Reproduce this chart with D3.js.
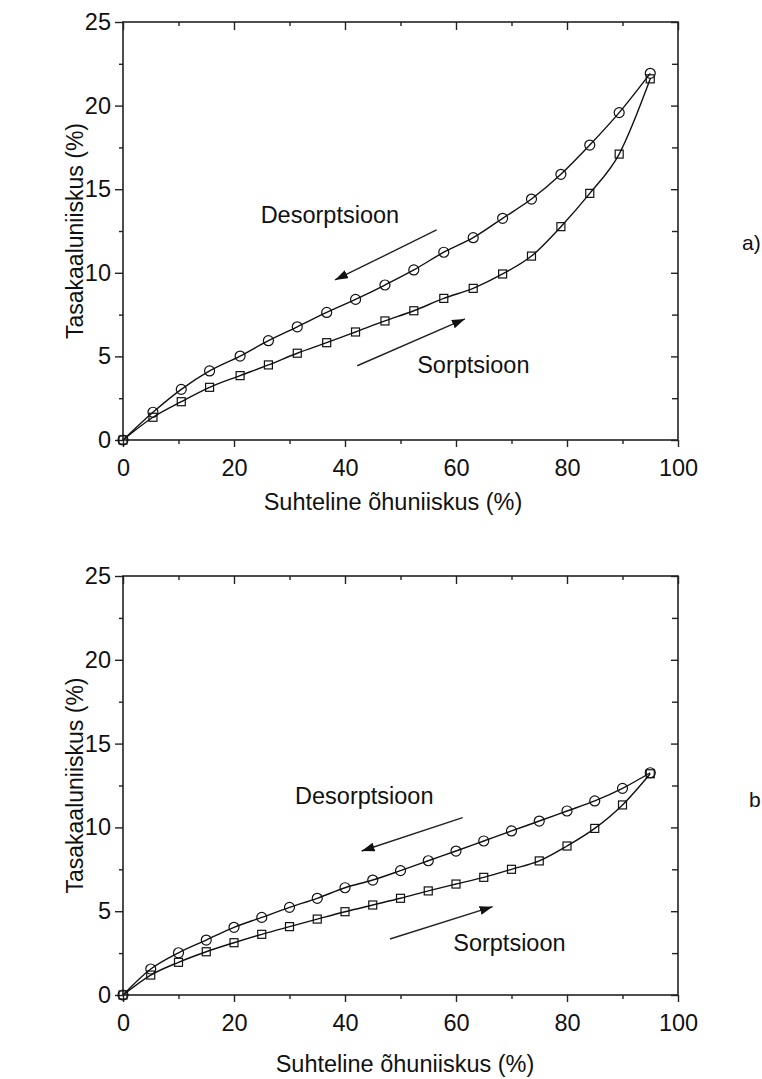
<!DOCTYPE html>
<html>
<head>
<meta charset="utf-8">
<script src="https://cdn.jsdelivr.net/npm/d3@7"></script>
<style>
  body { margin: 0; background: #fff; }
  svg text { font-family: "Liberation Sans", Arial, Helvetica, sans-serif; fill: #111; }
</style>
</head>
<body>
<div id="chart"></div>
<script>
// ---- data ----
// panel a
const rhA = [0, 5.4, 10.5, 15.6, 21.1, 26.2, 31.4, 36.7, 41.9, 47.2, 52.4, 57.8, 63.1, 68.4, 73.6, 78.9, 84.1, 89.4, 95];
const desorptionA = [0, 1.66, 3.03, 4.13, 5.02, 5.94, 6.77, 7.63, 8.41, 9.27, 10.17, 11.23, 12.1, 13.26, 14.41, 15.89, 17.64, 19.58, 21.93];
const sorptionA = [0, 1.36, 2.29, 3.15, 3.85, 4.49, 5.19, 5.82, 6.46, 7.12, 7.73, 8.47, 9.07, 9.93, 11.0, 12.76, 14.75, 17.1, 21.6];

// panel b
const rhB = [0, 5, 10, 15, 20, 25, 30, 35, 40, 45, 50, 55, 60, 65, 70, 75, 80, 85, 90, 95];
const desorptionB = [0, 1.55, 2.52, 3.28, 4.04, 4.63, 5.23, 5.77, 6.40, 6.86, 7.42, 8.01, 8.59, 9.19, 9.79, 10.38, 10.98, 11.58, 12.33, 13.26];
const sorptionB = [0, 1.19, 1.95, 2.58, 3.12, 3.62, 4.08, 4.53, 4.97, 5.37, 5.77, 6.21, 6.62, 7.02, 7.50, 8.0, 8.89, 9.94, 11.34, 13.2];

const xTicks = [0, 20, 40, 60, 80, 100];
const yTicks = [0, 5, 10, 15, 20, 25];
const xTitle = 'Suhteline õhuniiskus (%)';
const yTitle = 'Tasakaaluniiskus (%)';

// annotation anchors in data units: arrows [x1, y1, x2(tip), y2(tip)], labels [x, y]
const arrowsA = [[56.5, 12.56, 38.2, 9.57], [42.2, 4.44, 61.6, 7.24]];
const labelsA = [['Desorptsioon', 24.8, 12.98], ['Sorptsioon', 53.0, 3.99]];
const arrowsB = [[61.2, 10.58, 43.0, 8.59], [48.1, 3.34, 66.6, 5.27]];
const labelsB = [['Desorptsioon', 31.0, 11.38], ['Sorptsioon', 59.5, 2.64]];

const svg = d3.select('#chart').append('svg')
    .attr('width', 762)
    .attr('height', 1079);

// arrow head
svg.append('defs').append('marker')
    .attr('id', 'head')
    .attr('viewBox', '0 0 13 9')
    .attr('refX', 13).attr('refY', 4.5)
    .attr('markerWidth', 13).attr('markerHeight', 9)
    .attr('markerUnits', 'userSpaceOnUse')
    .attr('orient', 'auto')
  .append('path')
    .attr('d', 'M0,0L13,4.5L0,9Z')
    .attr('fill', '#111');

function drawPanel(cfg) {
    const w = 555, h = cfg.height;
    const g = svg.append('g').attr('transform', `translate(${cfg.left},${cfg.top})`);

    const x = d3.scaleLinear().domain([0, 100]).range([0, w]);
    const y = d3.scaleLinear().domain([0, 25]).range([h, 0]);

    const fontSize = '23.5px';

    // minor ticks first
    g.append('g').attr('transform', `translate(0,${h})`)
        .call(d3.axisBottom(x).tickValues(d3.range(10, 100, 20)).tickSize(4).tickFormat(''));
    g.append('g')
        .call(d3.axisLeft(y).tickValues(d3.range(2.5, 25, 5)).tickSize(4).tickFormat(''));
    g.append('g')
        .call(d3.axisTop(x).tickValues(d3.range(10, 100, 20)).tickSize(-4).tickFormat(''));
    g.append('g').attr('transform', `translate(${w},0)`)
        .call(d3.axisRight(y).tickValues(d3.range(2.5, 25, 5)).tickSize(-6).tickFormat(''));

    // major ticks with labels
    const xAxisG = g.append('g').attr('transform', `translate(0,${h})`)
        .call(d3.axisBottom(x).tickValues(xTicks).tickSize(7).tickPadding(12));
    const yAxisG = g.append('g')
        .call(d3.axisLeft(y).tickValues(yTicks).tickSize(8).tickPadding(4));
    g.append('g')
        .call(d3.axisTop(x).tickValues(xTicks).tickSize(-8).tickFormat(''));
    g.append('g').attr('transform', `translate(${w},0)`)
        .call(d3.axisRight(y).tickValues(yTicks).tickSize(-7).tickFormat(''));

    g.selectAll('.domain').remove();
    g.selectAll('.tick line').attr('stroke', '#222').attr('stroke-width', 1.4);
    xAxisG.selectAll('text').style('font-size', fontSize).attr('fill', '#111');
    yAxisG.selectAll('text').style('font-size', fontSize).attr('fill', '#111');

    // frame
    g.append('rect')
        .attr('width', w).attr('height', h)
        .attr('fill', 'none')
        .attr('stroke', '#222')
        .attr('stroke-width', 1.6);

    const line = d3.line()
        .x(d => x(d[0]))
        .y(d => y(d[1]))
        .curve(d3.curveMonotoneX);

    const sorp = cfg.rh.map((v, i) => [v, cfg.sorption[i]]);
    const desorp = cfg.rh.map((v, i) => [v, cfg.desorption[i]]);

    [sorp, desorp].forEach(s => {
        g.append('path')
            .datum(s)
            .attr('d', line)
            .attr('fill', 'none')
            .attr('stroke', '#111')
            .attr('stroke-width', 1.4);
    });

    // square markers (sorption)
    g.selectAll('.sq').data(sorp).join('rect')
        .attr('class', 'sq')
        .attr('x', d => x(d[0]) - 4)
        .attr('y', d => y(d[1]) - 4)
        .attr('width', 8).attr('height', 8)
        .attr('fill', 'none')
        .attr('stroke', '#111')
        .attr('stroke-width', 1.2);

    // circle markers (desorption)
    g.selectAll('.ci').data(desorp).join('circle')
        .attr('class', 'ci')
        .attr('cx', d => x(d[0]))
        .attr('cy', d => y(d[1]))
        .attr('r', 5)
        .attr('fill', 'none')
        .attr('stroke', '#111')
        .attr('stroke-width', 1.2);

    // arrows and labels
    cfg.arrows.forEach(a => {
        g.append('line')
            .attr('x1', x(a[0])).attr('y1', y(a[1]))
            .attr('x2', x(a[2])).attr('y2', y(a[3]))
            .attr('stroke', '#222')
            .attr('stroke-width', 1.4)
            .attr('marker-end', 'url(#head)');
    });
    cfg.labels.forEach(l => {
        g.append('text')
            .attr('x', x(l[1])).attr('y', y(l[2]))
            .style('font-size', fontSize)
            .text(l[0]);
    });

    // axis titles
    g.append('text')
        .attr('x', cfg.xTitleX).attr('y', h + cfg.xTitleDy)
        .attr('text-anchor', 'middle')
        .style('font-size', fontSize)
        .text(xTitle);
    g.append('text')
        .attr('transform', `translate(-40,${h / 2}) rotate(-90)`)
        .attr('text-anchor', 'middle')
        .style('font-size', '23px')
        .text(yTitle);

    // panel tag
    g.append('text')
        .attr('x', cfg.tagX).attr('y', cfg.tagY)
        .style('font-size', '21px')
        .text(cfg.tag);
}

drawPanel({
    left: 123, top: 22, height: 418,
    rh: rhA, sorption: sorptionA, desorption: desorptionA,
    arrows: arrowsA, labels: labelsA,
    xTitleX: 270, xTitleDy: 70,
    tag: 'a)', tagX: 619, tagY: 228
});

drawPanel({
    left: 123, top: 576, height: 419,
    rh: rhB, sorption: sorptionB, desorption: desorptionB,
    arrows: arrowsB, labels: labelsB,
    xTitleX: 282, xTitleDy: 77,
    tag: 'b', tagX: 626, tagY: 231
});
</script>
</body>
</html>
